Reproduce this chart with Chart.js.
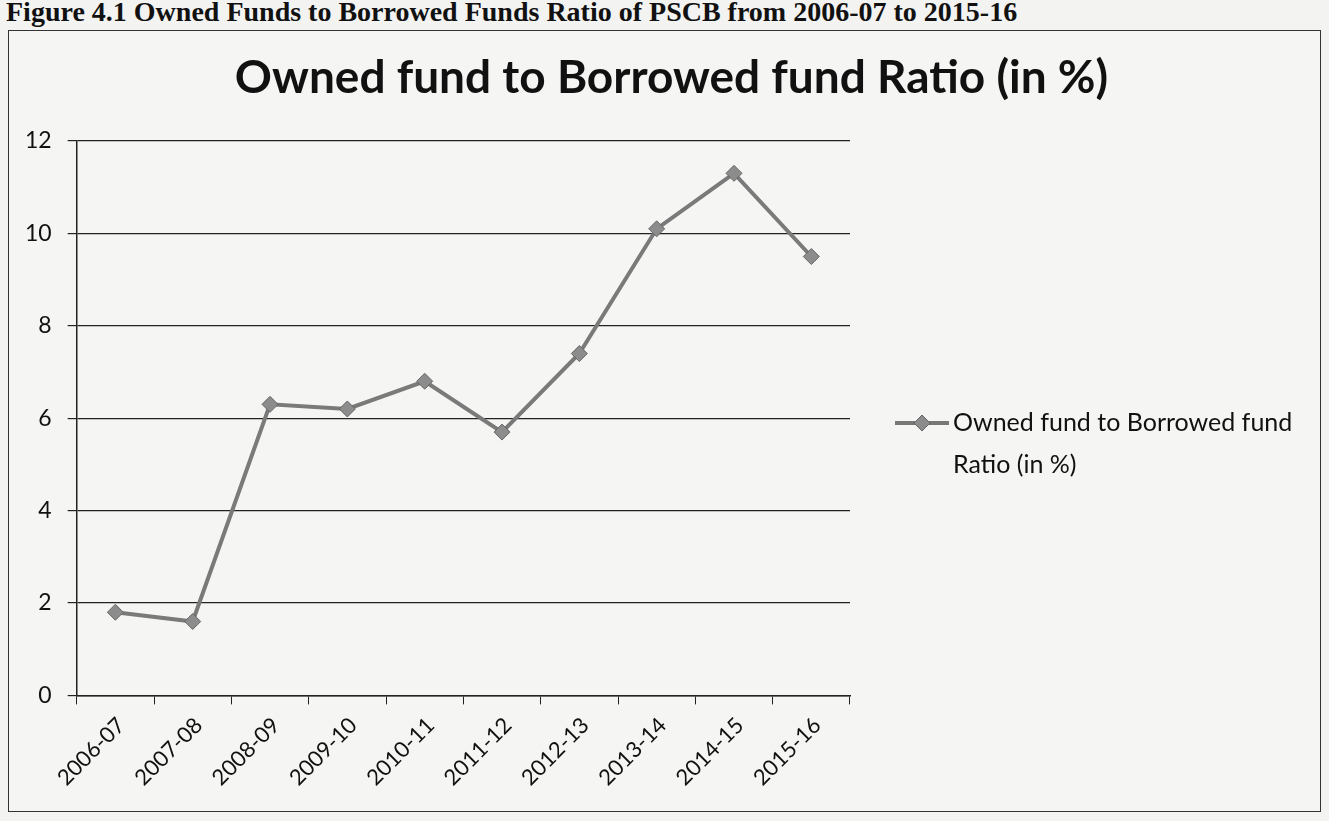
<!DOCTYPE html>
<html>
<head>
<meta charset="utf-8">
<script src="https://cdn.jsdelivr.net/npm/chart.js@4.4.1/dist/chart.umd.min.js"></script>
<style>
  body { margin: 0; background: #f3f3f1; width: 1329px; height: 821px; overflow: hidden; position: relative; }
  #cabecalho {
    position: absolute; left: 6px; top: -4px;
    font: bold 28px "Liberation Serif", serif; color: #111; white-space: nowrap;
  }
  #moldura {
    position: absolute; left: 8px; top: 30px; width: 1313px; height: 782px;
    border: 1.5px solid #333; box-sizing: border-box; background: #f5f5f3;
  }
  #moldura canvas { position: absolute; left: 0; top: 0; }
</style>
</head>
<body>
<div id="cabecalho">Figure 4.1 Owned Funds to Borrowed Funds Ratio of PSCB from 2006-07 to 2015-16</div>
<div id="moldura"><canvas id="grafico1"></canvas></div>
<script>
const anos = ["2006-07", "2007-08", "2008-09", "2009-10", "2010-11", "2011-12", "2012-13", "2013-14", "2014-15", "2015-16"];
const razao = [1.8, 1.6, 6.3, 6.2, 6.8, 5.7, 7.4, 10.1, 11.3, 9.5];
const marcasY = [0, 2, 4, 6, 8, 10, 12];
const nomeSerie = "Owned fund to Borrowed fund Ratio (in %)";
const legendaLinhas = ["Owned fund to Borrowed fund", "Ratio (in %)"];

const fonte = "Lato, 'Open Sans', sans-serif";

// título centrado na moldura toda e legenda em duas linhas à direita
const tituloELegenda = {
  id: "tituloELegenda",
  afterDraw(chart) {
    const c = chart.ctx;
    const area = chart.chartArea;
    c.save();
    c.fillStyle = "#111";
    c.font = "bold 46px " + fonte;
    c.textAlign = "center";
    c.textBaseline = "alphabetic";
    c.fillText(nomeSerie, chart.width / 2 + 6, 62);

    const x = area.right + 45;
    const y = area.top + 282;
    c.strokeStyle = "#777";
    c.lineWidth = 4;
    c.beginPath();
    c.moveTo(x, y);
    c.lineTo(x + 54, y);
    c.stroke();
    c.fillStyle = "#8c8c8c";
    c.strokeStyle = "#666";
    c.lineWidth = 1;
    c.beginPath();
    c.moveTo(x + 27, y - 8);
    c.lineTo(x + 35, y);
    c.lineTo(x + 27, y + 8);
    c.lineTo(x + 19, y);
    c.closePath();
    c.fill();
    c.stroke();
    c.fillStyle = "#111";
    c.font = "25px " + fonte;
    c.textAlign = "left";
    c.textBaseline = "middle";
    c.fillText(legendaLinhas[0], x + 58, y);
    c.fillText(legendaLinhas[1], x + 58, y + 42);
    c.restore();
  },
};

const ctx = document.getElementById("grafico1");
ctx.width = 1313;
ctx.height = 782;

new Chart(ctx, {
  type: "line",
  data: {
    labels: anos,
    datasets: [
      {
        label: nomeSerie,
        data: razao,
        borderColor: "#7a7a7a",
        borderWidth: 4,
        pointStyle: "rectRot",
        pointRadius: 8,
        pointBackgroundColor: "#8c8c8c",
        pointBorderColor: "#666",
        pointBorderWidth: 1,
        tension: 0,
      },
    ],
  },
  plugins: [tituloELegenda],
  options: {
    responsive: false,
    animation: false,
    layout: { padding: { left: 0, right: 472, top: 110, bottom: 14 } },
    scales: {
      x: {
        offset: true,
        grid: {
          offset: true,
          drawOnChartArea: false,
          drawTicks: true,
          tickLength: 9,
          color: "#222",
        },
        border: { color: "#222", width: 1.5 },
        ticks: {
          color: "#111",
          font: { size: 22, family: fonte },
          maxRotation: 45,
          minRotation: 45,
          padding: 8,
          labelOffset: 6,
        },
      },
      y: {
        min: 0,
        max: 12,
        afterBuildTicks(axis) {
          axis.ticks = marcasY.map((v) => ({ value: v }));
        },
        grid: { color: "#222", lineWidth: 1.2, tickLength: 9 },
        border: { color: "#222", width: 1.5 },
        ticks: {
          color: "#111",
          font: { size: 23, family: fonte },
          padding: 16,
        },
      },
    },
    plugins: {
      legend: { display: false },
      tooltip: { enabled: false },
      title: { display: false },
    },
  },
});
</script>
</body>
</html>
